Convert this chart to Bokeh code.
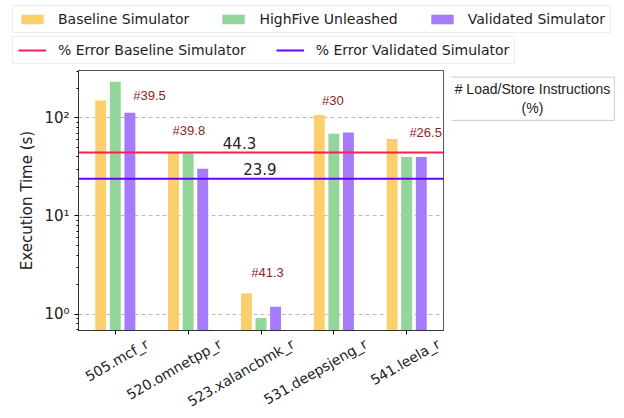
import numpy as np
from bokeh.plotting import figure
from bokeh.layouts import column, row
from bokeh.models import (Legend, LegendItem, Span, FixedTicker, ColumnDataSource, Label,
                          LinearAxis)
from bokeh.core.properties import value
from bokeh.embed import file_html
from bokeh.resources import INLINE

# ---------------- data ----------------
benchmarks = ["505.mcf_r", "520.omnetpp_r", "523.xalancbmk_r", "531.deepsjeng_r", "541.leela_r"]
baseline = [150, 44.7, 1.63, 107, 61]
highfive = [234, 44, 0.91, 69, 40]
validated = [113, 30.3, 1.19, 71, 40]
err_baseline = 44.3
err_validated = 23.9
ls_labels = ["#39.5", "#39.8", "#41.3", "#30", "#26.5"]
ls_x = [0.47, 1.01, 2.09, 2.985, 4.26]
ls_y = [169, 74, 2.66, 150, 71]

series_names = ["Baseline Simulator", "HighFive Unleashed", "Validated Simulator"]
error_names = ["% Error Baseline Simulator", "% Error Validated Simulator"]
series_colors = ["#fbd06c", "#92d69a", "#a57afb"]
red = "#ff1f4f"
blue = "#6a00ff"

idx = np.arange(len(benchmarks))

# ---------------- main chart ----------------
p = figure(width=451, height=348, y_axis_type="log",
           x_range=(-0.505, 4.505), y_range=(0.68, 304),
           output_backend="svg", toolbar_location=None,
           frame_width=365, frame_height=260,
           min_border_left=78, min_border_top=2, min_border_right=8, min_border_bottom=86)

for vals, off, col in zip([baseline, highfive, validated], [-0.2, 0.0, 0.2], series_colors):
    src = ColumnDataSource(dict(x=idx + off, top=vals, bottom=[0.01] * len(vals)))
    p.vbar(x="x", top="top", bottom="bottom", width=0.15, source=src,
           fill_color=col, line_color=None)

p.add_layout(Span(location=err_baseline, dimension="width", line_color=red, line_width=2))
p.add_layout(Span(location=err_validated, dimension="width", line_color=blue, line_width=2))

p.text(x=[1.705], y=[err_baseline], text=[f"{err_baseline}"], text_align="center",
       text_baseline="bottom", y_offset=-4, text_font_size="15px",
       text_font=value("DejaVu Sans"), text_color="#222222")
p.text(x=[1.985], y=[err_validated], text=[f"{err_validated}"], text_align="center",
       text_baseline="bottom", y_offset=-4, text_font_size="15px",
       text_font=value("DejaVu Sans"), text_color="#222222")

p.text(x=ls_x, y=ls_y, text=ls_labels, text_align="center", text_baseline="middle",
       text_font_size="13px", text_font=value("Liberation Sans"), text_color="#8b2525")

# x axis: tick marks at categories
p.xaxis.ticker = FixedTicker(ticks=list(idx))
p.xaxis.major_label_overrides = {int(i): "" for i in idx}
p.xaxis.major_label_standoff = 0
p.xaxis.major_tick_in = 0
p.xaxis.major_tick_out = 4
p.xaxis.minor_tick_line_color = None
p.xaxis.axis_line_color = "#333333"
p.xgrid.grid_line_color = None

# x axis labels, centred on the ticks like the rotated reference labels
shift = 0.44
lab_axis = LinearAxis(ticker=FixedTicker(ticks=list(idx + shift)),
                      major_label_overrides={float(i + shift): b for i, b in zip(idx, benchmarks)},
                      major_label_orientation=np.pi / 6,
                      major_label_text_font="DejaVu Sans",
                      major_label_text_font_size="14px",
                      major_label_text_color="#222222",
                      major_label_standoff=2,
                      major_tick_line_color=None, minor_tick_line_color=None,
                      axis_line_color=None)
p.add_layout(lab_axis, "below")

p.yaxis.axis_label = "Execution Time (s)"
p.yaxis.axis_label_text_font = "DejaVu Sans"
p.yaxis.axis_label_text_font_size = "15px"
p.yaxis.axis_label_text_font_style = "normal"
p.yaxis.axis_label_text_color = "#222222"
p.yaxis.major_label_overrides = {1: "10⁰", 10: "10¹", 100: "10²"}
p.yaxis.major_label_text_font = "DejaVu Sans"
p.yaxis.major_label_text_font_size = "15px"
p.yaxis.major_label_text_color = "#222222"
p.yaxis.major_tick_in = 0
p.yaxis.major_tick_out = 4
p.yaxis.minor_tick_in = 0
p.yaxis.minor_tick_out = 2
p.yaxis.axis_line_color = "#333333"
p.ygrid.grid_line_color = "#bbbbbb"
p.ygrid.grid_line_dash = "4 3"
p.ygrid.grid_line_width = 1
p.outline_line_color = "#555555"

# ---------------- legend strip ----------------
lf = figure(width=616, height=68, x_range=(0, 616), y_range=(0, 68),
            output_backend="svg", toolbar_location=None,
            x_axis_location=None, y_axis_location=None,
            min_border=0)
lf.grid.visible = False
lf.outline_line_color = None
nan = np.array([np.nan])
bar_r = [lf.vbar(x=nan, top=nan, width=1, fill_color=c, line_color=None) for c in series_colors]
line_r = [lf.line(x=nan, y=nan, line_color=c, line_width=2) for c in (red, blue)]

leg1 = Legend(items=[LegendItem(label=n, renderers=[r]) for n, r in zip(series_names, bar_r)],
              orientation="horizontal", location=(12, 35))
leg2 = Legend(items=[LegendItem(label=n, renderers=[r]) for n, r in zip(error_names, line_r)],
              orientation="horizontal", location=(12, 4))
for lg in (leg1, leg2):
    lg.label_text_font = "DejaVu Sans"
    lg.label_text_font_size = "14px"
    lg.label_text_color = "#222222"
    lg.label_height = 16
    lg.glyph_width = 28
    lg.glyph_height = 12
    lg.label_standoff = 12
    lg.spacing = 30
    lg.padding = 5
    lg.margin = 0
    lg.border_line_color = "#dddddd"
    lg.background_fill_alpha = 1
    lf.add_layout(lg, "center")

# ---------------- side box ----------------
bf = figure(width=165, height=348, x_range=(0, 165), y_range=(0, 348),
            output_backend="svg", toolbar_location=None,
            x_axis_location=None, y_axis_location=None, min_border=0)
bf.grid.visible = False
bf.outline_line_color = None
bf.add_layout(Label(x=81, y=339, text="# Load/Store Instructions\n(%)",
                    text_align="center", text_baseline="top",
                    text_font="Liberation Sans", text_font_size="14px", text_color="#222222",
                    border_line_color="#cccccc", padding=4))

layout = column(lf, row(p, bf))
open("out.html", "w").write(file_html(layout, INLINE))
